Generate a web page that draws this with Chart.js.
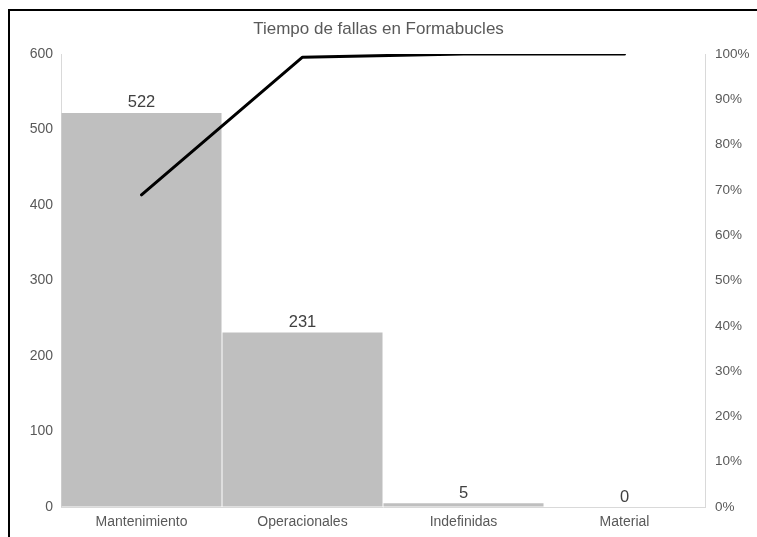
<!DOCTYPE html>
<html>
<head>
<meta charset="utf-8">
<script src="https://cdn.jsdelivr.net/npm/chart.js@4"></script>
<style>
  html, body { margin: 0; padding: 0; background: #ffffff; }
  #wrap { width: 757px; height: 537px; position: relative; }
</style>
</head>
<body>
<div id="wrap"><canvas id="c" width="757" height="537"></canvas></div>
<script>
// Failure time per cause (minutes) and cumulative share for the Pareto line
const categories = ['Mantenimiento', 'Operacionales', 'Indefinidas', 'Material'];
const failureTime = [522, 231, 5, 0];
const cumulativePct = [68.9, 99.3, 100, 100];
const leftTicks = [0, 100, 200, 300, 400, 500, 600];
const rightTicks = [0, 10, 20, 30, 40, 50, 60, 70, 80, 90, 100];

const FONT = "'Liberation Sans', Arial, sans-serif";
const TEXT = '#595959';

// Value labels above each bar
const barLabels = {
  id: 'barLabels',
  afterDatasetsDraw(chart) {
    const ctx = chart.ctx;
    const meta = chart.getDatasetMeta(1);
    ctx.save();
    ctx.font = '16.5px ' + FONT;
    ctx.fillStyle = '#404040';
    ctx.textAlign = 'center';
    ctx.textBaseline = 'middle';
    meta.data.forEach((bar, i) => {
      ctx.fillText(String(failureTime[i]), bar.x, bar.y - 10);
    });
    ctx.restore();
  }
};

// Black frame around the chart
const frame = {
  id: 'frame',
  afterDraw(chart) {
    const ctx = chart.ctx;
    ctx.save();
    ctx.strokeStyle = '#000000';
    ctx.lineWidth = 2;
    ctx.beginPath();
    ctx.moveTo(9, 537);
    ctx.lineTo(9, 10);
    ctx.lineTo(757, 10);
    ctx.stroke();
    ctx.restore();
  }
};

new Chart(document.getElementById('c'), {
  data: {
    labels: categories,
    datasets: [
      {
        type: 'line',
        data: cumulativePct,
        yAxisID: 'y1',
        borderColor: '#000000',
        borderWidth: 3,
        pointRadius: 0,
        tension: 0,
        borderCapStyle: 'round',
        borderJoinStyle: 'round',
        order: 0
      },
      {
        type: 'bar',
        data: failureTime,
        yAxisID: 'y',
        backgroundColor: '#bfbfbf',
        borderWidth: 0,
        barPercentage: 0.994,
        categoryPercentage: 1,
        order: 1
      }
    ]
  },
  options: {
    responsive: false,
    animation: false,
    layout: { padding: { left: 0, right: 0, top: 0, bottom: 0 } },
    plugins: {
      legend: { display: false },
      tooltip: { enabled: false },
      title: {
        display: true,
        text: 'Tiempo de fallas en Formabucles',
        color: TEXT,
        font: { family: FONT, size: 17, weight: 'normal' },
        padding: { top: 19, bottom: 14.6 }
      }
    },
    scales: {
      x: {
        grid: { color: 'rgba(0,0,0,0)', drawTicks: false },
        border: { display: true, color: '#d9d9d9', width: 1 },
        ticks: { color: TEXT, font: { family: FONT, size: 14 }, padding: 7 },
        afterFit(s) { s.height = 30; }
      },
      y: {
        position: 'left',
        min: 0,
        max: 600,
        afterBuildTicks(s) { s.ticks = leftTicks.map(v => ({ value: v })); },
        grid: { color: 'rgba(0,0,0,0)', drawTicks: false },
        border: { display: true, color: '#d9d9d9', width: 1 },
        ticks: { color: TEXT, font: { family: FONT, size: 14 }, padding: 8 },
        afterFit(s) { s.width = 61; }
      },
      y1: {
        position: 'right',
        min: 0,
        max: 100,
        afterBuildTicks(s) { s.ticks = rightTicks.map(v => ({ value: v })); },
        grid: { color: 'rgba(0,0,0,0)', drawTicks: false, drawOnChartArea: false },
        border: { display: true, color: '#d9d9d9', width: 1 },
        ticks: {
          color: TEXT,
          font: { family: FONT, size: 13.5 },
          padding: 10,
          callback: v => v + '%'
        },
        afterFit(s) { s.width = 52; }
      }
    }
  },
  plugins: [barLabels, frame]
});
</script>
</body>
</html>
